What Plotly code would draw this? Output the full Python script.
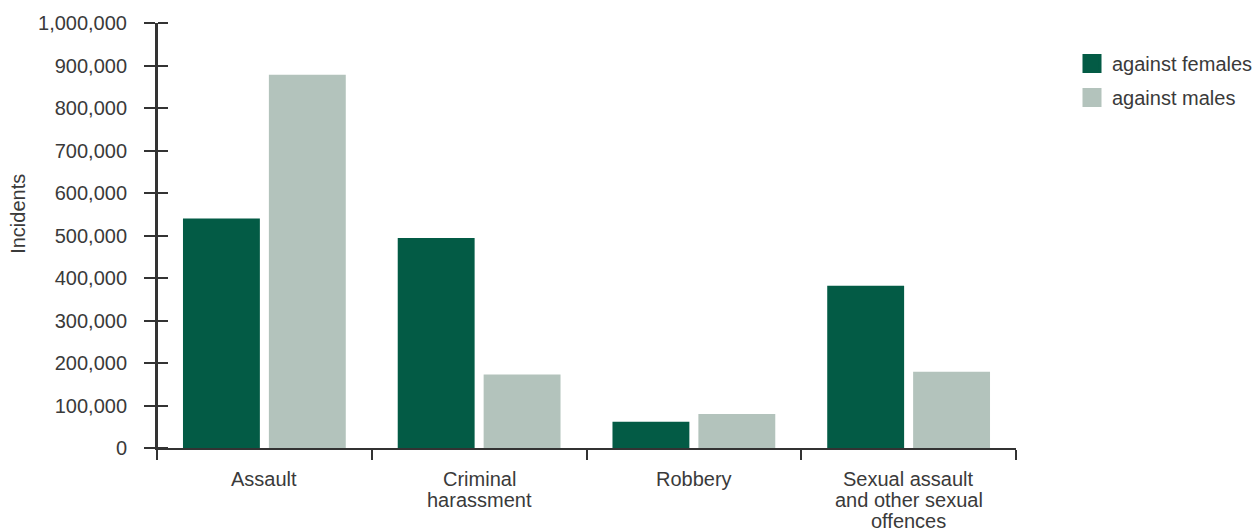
import plotly.graph_objects as go

# Police-reported violent incidents by sex of victim
categories = ["Assault", "Criminal harassment", "Robbery", "Sexual assault"]
category_lines = [
    ["Assault"],
    ["Criminal", "harassment"],
    ["Robbery"],
    ["Sexual assault", "and other sexual", "offences"],
]
against_females = [540000, 494000, 61500, 381500]
against_males = [878000, 173000, 80000, 179500]
series_names = ["against females", "against males"]
tick_values = [0, 100000, 200000, 300000, 400000, 500000, 600000, 700000, 800000, 900000, 1000000]
tick_labels = ["0", "100,000", "200,000", "300,000", "400,000", "500,000",
               "600,000", "700,000", "800,000", "900,000", "1,000,000"]

DARK = "#035b45"
LIGHT = "#b3c3bc"
TEXT = "#3a3a3a"
AXIS = "#333333"
FONT = "Liberation Sans, Arial, sans-serif"
FS = 20

fig = go.Figure()
for vals, color in [(against_females, DARK), (against_males, LIGHT)]:
    fig.add_trace(go.Bar(x=categories, y=vals, marker=dict(color=color, line=dict(width=0)),
                         showlegend=False))

# legend entries as square swatches (on the overlay axis that carries the inner tick halves)
for name, color in zip(series_names, [DARK, LIGHT]):
    fig.add_trace(go.Scatter(x=[categories[0]], y=[None], mode="markers", name=name,
                             xaxis="x", yaxis="y2", legendgroup=name,
                             marker=dict(symbol="square", size=16, color=color,
                                         line=dict(color=color, width=3))))

# category labels, one annotation per line for tight line spacing
annotations = []
for cat, lines in zip(categories, category_lines):
    for i, line in enumerate(lines):
        annotations.append(dict(x=cat, xref="x", y=0, yref="paper", text=line, showarrow=False,
                                yanchor="middle", xanchor="center", yshift=-31 - 21 * i,
                                font=dict(family=FONT, size=FS, color=TEXT)))
annotations.append(dict(x=-0.1618, xref="paper", y=0.551, yref="paper", text="Incidents",
                        textangle=-90, showarrow=False, xanchor="center", yanchor="middle",
                        font=dict(family=FONT, size=FS, color=TEXT)))

fig.update_layout(
    width=1254, height=531,
    margin=dict(l=157, r=238, t=20, b=83),
    paper_bgcolor="white", plot_bgcolor="white",
    barmode="group", bargap=0.2, bargroupgap=0.105,
    font=dict(family=FONT, size=FS, color=TEXT),
    xaxis=dict(showline=True, linecolor=AXIS, linewidth=2, ticks="outside", tickson="boundaries",
               ticklen=10, tickwidth=2, tickcolor=AXIS, showticklabels=False, showgrid=False,
               zeroline=False),
    yaxis=dict(range=[0, 1000000], tickvals=tick_values, ticktext=tick_labels,
               showline=True, linecolor=AXIS, linewidth=2, ticks="outside", ticklen=11,
               tickwidth=2, tickcolor=AXIS, showgrid=False, zeroline=False,
               ticklabelstandoff=13, tickfont=dict(family=FONT, size=FS, color=TEXT)),
    # second axis on the same line, ticks pointing right so every tick crosses the axis
    yaxis2=dict(range=[0, 1000000], overlaying="y", anchor="free", position=0, side="right",
                tickmode="array", tickvals=tick_values,
                ticks="outside", ticklen=10, tickwidth=2, tickcolor=AXIS,
                showline=True, linecolor=AXIS, linewidth=2,
                showticklabels=False, showgrid=False, zeroline=False),
    legend=dict(xref="container", yref="container", x=1072 / 1254, y=1 - 44 / 531,
                xanchor="left", yanchor="top", traceorder="grouped", tracegroupgap=5,
                font=dict(family=FONT, size=FS, color=TEXT), bgcolor="rgba(0,0,0,0)"),
    annotations=annotations,
)

fig.write_html("out.html")
